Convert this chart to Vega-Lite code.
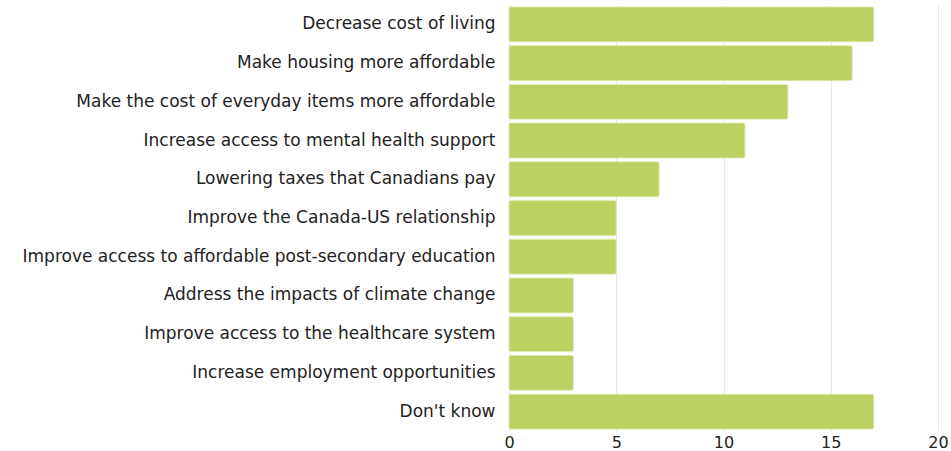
{
  "$schema": "https://vega.github.io/schema/vega-lite/v6.json",
  "width": 429,
  "height": 426,
  "autosize": {"type": "none"},
  "padding": {"left": 509, "top": 5, "right": 13, "bottom": 20},
  "background": "white",
  "config": {"view": {"stroke": null}, "font": "DejaVu Sans"},
  "data": {"values": [
    {"category": "Decrease cost of living", "value": 17},
    {"category": "Make housing more affordable", "value": 16},
    {"category": "Make the cost of everyday items more affordable", "value": 13},
    {"category": "Increase access to mental health support", "value": 11},
    {"category": "Lowering taxes that Canadians pay", "value": 7},
    {"category": "Improve the Canada-US relationship", "value": 5},
    {"category": "Improve access to affordable post-secondary education", "value": 5},
    {"category": "Address the impacts of climate change", "value": 3},
    {"category": "Improve access to the healthcare system", "value": 3},
    {"category": "Increase employment opportunities", "value": 3},
    {"category": "Don't know", "value": 17}
  ]},
  "mark": {"type": "bar", "color": "#bbd262", "cornerRadius": 2, "stroke": "#d4e39a", "strokeWidth": 0.8},
  "encoding": {
    "y": {
      "field": "category", "type": "nominal", "sort": null, "title": null,
      "scale": {"paddingInner": 0.1, "paddingOuter": 0.05},
      "axis": {"domain": false, "ticks": false, "labelPadding": 14, "labelFontSize": 17, "labelColor": "#222222", "labelLimit": 520}
    },
    "x": {
      "field": "value", "type": "quantitative", "title": null,
      "scale": {"domain": [0, 20]},
      "axis": {"values": [0, 5, 10, 15, 20], "domain": false, "ticks": false, "grid": true, "gridColor": "#e8e8e8", "labelFontSize": 16, "labelColor": "#222222", "labelPadding": 3, "labelFlush": false}
    }
  }
}
